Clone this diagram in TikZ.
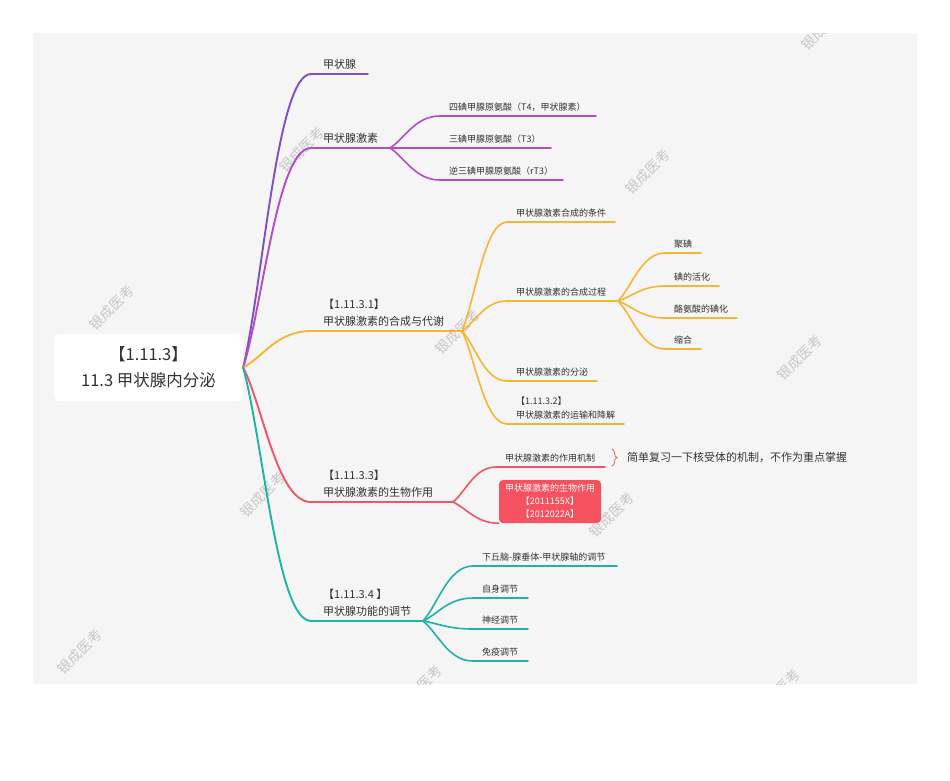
\documentclass[tikz,border=0pt]{standalone}
\usepackage{fontspec}
\setmainfont{Noto Sans CJK SC}
\usetikzlibrary{calc}
\definecolor{cpur}{HTML}{7E4FC6}
\definecolor{cmag}{HTML}{B64CC6}
\definecolor{corg}{HTML}{F6B532}
\definecolor{cred}{HTML}{F0566A}
\definecolor{cbox}{HTML}{F5515F}
\definecolor{cteal}{HTML}{1DB3A6}
\definecolor{bgc}{HTML}{F5F5F5}
\definecolor{txt}{HTML}{333333}
\tikzset{
  mm/.style={to path={.. controls ($(\tikztostart)!0.3!(\tikztotarget)$) and ($(\tikztotarget)!0.5!(\tikztostart |- \tikztotarget)$) .. (\tikztotarget) \tikztonodes}},
  edgeone/.style={line width=1.9pt, line cap=round},
  edgetwo/.style={line width=1.6pt, line cap=round},
  lone/.style={anchor=south west, inner xsep=12pt, inner ysep=4.5pt, font=\fontsize{11}{17}\selectfont, text=txt, align=left},
  ltwo/.style={anchor=south west, inner xsep=9pt, inner ysep=4.5pt, font=\fontsize{9}{14}\selectfont, text=txt, align=left},
  rootbox/.style={fill=white, rounded corners=5pt, minimum width=189pt, minimum height=67pt, align=center, text=txt, font=\fontsize{16.5}{26}\selectfont},
  redbox/.style={fill=cbox, rounded corners=4pt, minimum width=102pt, minimum height=43pt, inner sep=2pt, align=center, text=white, font=\fontsize{9}{13}\selectfont},
  note/.style={anchor=west, inner xsep=0pt, text=txt, font=\fontsize{11}{14}\selectfont},
  wm/.style={rotate=45, text=black!22, font=\fontsize{14}{14}\selectfont},
}
\begin{document}
\begin{tikzpicture}[x=1pt,y=-1pt]
\useasboundingbox (0,0) rectangle (950,780);
\fill[white] (0,0) rectangle (950,780);
\fill[bgc] (33,33) rectangle (917,684);
% watermarks
\begin{scope}
\clip (33,33) rectangle (917,684);
\node[wm] (w1) at (302,150) {银成医考};
\node[wm] (w2) at (648,172) {银成医考};
\node[wm] (w3) at (112,308) {银成医考};
\node[wm] (w4) at (458,332) {银成医考};
\node[wm] (w5) at (800,358) {银成医考};
\node[wm] (w6) at (263,495) {银成医考};
\node[wm] (w7) at (612,515) {银成医考};
\node[wm] (w8) at (80,652) {银成医考};
\node[wm] (w9) at (420,688) {银成医考};
\node[wm] (w10) at (778,692) {银成医考};
\node[wm] (w11) at (824,28) {银成医考};
\end{scope}

% root
\node[rootbox] (root) at (148.5,367.5) {【1.11.3】\\11.3 甲状腺内分泌};

% purple branch
\node[lone] (a1) at (311,74) {甲状腺};
\coordinate (a1e) at (368,74);
\draw[edgeone,cpur] (root.east) to[mm] (a1.south west) -- (a1e);

% magenta branch
\node[lone] (a2) at (311,148) {甲状腺激素};
\coordinate (a2s) at (390,148);
\draw[edgeone,cmag] (root.east) to[mm] (a2.south west) -- (a2s);
\node[ltwo] (b1) at (440,116) {四碘甲腺原氨酸（T4，甲状腺素）};
\node[ltwo] (b2) at (440,148) {三碘甲腺原氨酸（T3）};
\node[ltwo] (b3) at (440,180) {逆三碘甲腺原氨酸（rT3）};
\coordinate (b1e) at (596,116);
\coordinate (b2e) at (551,148);
\coordinate (b3e) at (563,180);
\draw[edgetwo,cmag] (a2s) to[mm] (b1.south west) -- (b1e);
\draw[edgetwo,cmag] (a2s) -- (b2.south west) -- (b2e);
\draw[edgetwo,cmag] (a2s) to[mm] (b3.south west) -- (b3e);

% orange branch
\node[lone] (a3) at (311,331) {【1.11.3.1】\\甲状腺激素的合成与代谢};
\coordinate (a3s) at (462,331);
\draw[edgeone,corg] (root.east) to[mm] (a3.south west) -- (a3s);
\node[ltwo] (c1) at (507,222) {甲状腺激素合成的条件};
\node[ltwo] (c2) at (507,301) {甲状腺激素的合成过程};
\node[ltwo] (c3) at (507,381) {甲状腺激素的分泌};
\node[ltwo] (c4) at (507,424) {【1.11.3.2】\\甲状腺激素的运输和降解};
\coordinate (c1e) at (615,222);
\coordinate (c2s) at (618,301);
\coordinate (c3e) at (597,381);
\coordinate (c4e) at (624,424);
\draw[edgetwo,corg] (a3s) to[mm] (c1.south west) -- (c1e);
\draw[edgetwo,corg] (a3s) to[mm] (c2.south west) -- (c2s);
\draw[edgetwo,corg] (a3s) to[mm] (c3.south west) -- (c3e);
\draw[edgetwo,corg] (a3s) to[mm] (c4.south west) -- (c4e);
\node[ltwo] (d1) at (665,253) {聚碘};
\node[ltwo] (d2) at (665,286) {碘的活化};
\node[ltwo] (d3) at (665,318) {酪氨酸的碘化};
\node[ltwo] (d4) at (665,349) {缩合};
\coordinate (d1e) at (701,253);
\coordinate (d2e) at (719,286);
\coordinate (d3e) at (737,318);
\coordinate (d4e) at (701,349);
\draw[edgetwo,corg] (c2s) to[mm] (d1.south west) -- (d1e);
\draw[edgetwo,corg] (c2s) to[mm] (d2.south west) -- (d2e);
\draw[edgetwo,corg] (c2s) to[mm] (d3.south west) -- (d3e);
\draw[edgetwo,corg] (c2s) to[mm] (d4.south west) -- (d4e);

% red branch
\node[lone] (a4) at (311,502) {【1.11.3.3】\\甲状腺激素的生物作用};
\coordinate (a4s) at (453,502);
\draw[edgeone,cred] (root.east) to[mm] (a4.south west) -- (a4s);
\node[ltwo] (e1) at (496,467) {甲状腺激素的作用机制};
\coordinate (e1e) at (605,467);
\draw[edgetwo,cred] (a4s) to[mm] (e1.south west) -- (e1e);
\node[redbox] (e2) at (550,501.5) {甲状腺激素的生物作用\\【2011155X】\\【2012022A】};
\draw[edgetwo,cred] (a4s) to[mm] (e2.south west);
\coordinate (br1) at (612,449);
\coordinate (brm) at (617,457.5);
\coordinate (br2) at (612,466);
\draw[cred, line width=0.8pt, line cap=round] (br1) .. controls (615.5,449) and (613.5,457.5) .. (brm) .. controls (613.5,457.5) and (615.5,466) .. (br2);
\node[note] (nt) at (627,457) {简单复习一下核受体的机制，不作为重点掌握};

% teal branch
\node[lone] (a5) at (311,621) {【1.11.3.4 】\\甲状腺功能的调节};
\coordinate (a5s) at (423,621);
\draw[edgeone,cteal] (root.east) to[mm] (a5.south west) -- (a5s);
\node[ltwo] (f1) at (473,566) {下丘脑-腺垂体-甲状腺轴的调节};
\node[ltwo] (f2) at (473,598) {自身调节};
\node[ltwo] (f3) at (473,629) {神经调节};
\node[ltwo] (f4) at (473,661) {免疫调节};
\coordinate (f1e) at (617,566);
\coordinate (f2e) at (528,598);
\coordinate (f3e) at (528,629);
\coordinate (f4e) at (528,661);
\draw[edgetwo,cteal] (a5s) to[mm] (f1.south west) -- (f1e);
\draw[edgetwo,cteal] (a5s) to[mm] (f2.south west) -- (f2e);
\draw[edgetwo,cteal] (a5s) to[mm] (f3.south west) -- (f3e);
\draw[edgetwo,cteal] (a5s) to[mm] (f4.south west) -- (f4e);
\end{tikzpicture}
\end{document}
